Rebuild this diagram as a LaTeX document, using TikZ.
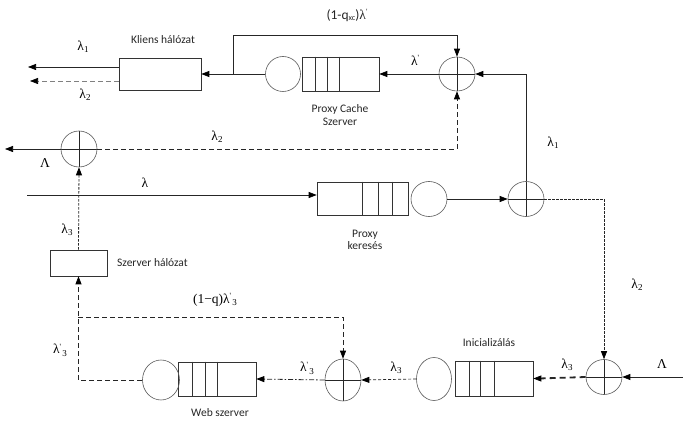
\documentclass[tikz,border=0pt]{standalone}
\usepackage{fontspec}
\setmainfont{Carlito}
\newfontfamily\gr{Liberation Serif}
\usetikzlibrary{arrows.meta,shapes.geometric,calc}

% rate labels: lambda with sub/superscripts
\newcommand\lam[1]{λ\raisebox{-0.35ex}{\fontsize{9}{9}\selectfont #1}}
\newcommand\lamp{λ\raisebox{0.8ex}{\fontsize{8}{8}\selectfont '}}
\newcommand\lampt{λ\rlap{\raisebox{0.8ex}{\fontsize{8}{8}\selectfont '}}\hspace{0.2em}\raisebox{-0.35ex}{\fontsize{9}{9}\selectfont 3}}

\tikzset{
  ln/.style={draw=black!85, line width=0.7pt},
  arr/.style={-{Triangle[length=8pt,width=6pt,color=black]}},
  srv/.style={draw=black!65, ellipse, inner sep=0pt, line width=0.6pt},
  pls/.style={srv, path picture={\draw[black!85, line width=0.7pt]
      (path picture bounding box.north) -- (path picture bounding box.south)
      (path picture bounding box.west) -- (path picture bounding box.east);}},
  boxn/.style={draw=black!80, rectangle, inner sep=0pt, line width=0.6pt},
  lbl/.style={font=\fontsize{11.5}{13.5}\selectfont, inner sep=0pt, text=black!85},
  glbl/.style={font=\gr\fontsize{13.5}{15}\selectfont, inner sep=0pt},
  dsh/.style={dash pattern=on 5pt off 3pt},
  fine/.style={line width=0.8pt, dash pattern=on 2.5pt off 1.5pt},
  thk/.style={line width=1.8pt, dash pattern=on 6pt off 4pt},
  dshdot/.style={line width=0.8pt, dash pattern=on 5pt off 2pt on 1.5pt off 2pt},
}

\begin{document}
\begin{tikzpicture}[x=1pt, y=-1pt]
\useasboundingbox (0,0) rectangle (683,422);

% ---------- top row: proxy cache server and client network ----------
\node[boxn, minimum width=82pt, minimum height=32pt] (kl) at (160,74) {};
\node[lbl] (klt) at (163,40) {Kliens hálózat};
\coordinate (o1) at (28,67);
\coordinate (o2) at (30,81);
\node[srv, minimum width=35pt, minimum height=35pt] (pcs) at (283,74) {};
\node[boxn, minimum width=77pt, minimum height=34pt] (pcq) at (340.5,74) {};
\foreach \d in {14,26,38}
  \draw[black!80, line width=0.6pt] ([xshift=\d pt]pcq.north west) -- ([xshift=\d pt]pcq.south west);
\node[lbl, align=center] (pct) at (340,115) {Proxy Cache\\[-1pt]Szerver};
\node[pls, minimum width=36pt, minimum height=34pt] (tp) at (457,74) {};
\coordinate (j1) at (233,74);
\node[glbl] (lt1) at (83,47) {\lam{1}};
\node[glbl] (lt2) at (85,95) {\lam{2}};
\node[glbl] (ltp) at (415,60) {\lamp};
\node[lbl, font=\fontsize{13.5}{15}\selectfont] (lq) at (347,15)
  {(1-q\raisebox{-0.2ex}{\fontsize{8}{8}\selectfont xc})\gr\lamp};

% ---------- middle row: proxy lookup ----------
\node[pls, minimum width=36pt, minimum height=36pt] (lp) at (79,149) {};
\coordinate (o3) at (5,149);
\coordinate (lin) at (27,195);
\node[boxn, minimum width=91pt, minimum height=33pt] (pkq) at (362.5,198.5) {};
\foreach \d in {46,62,76}
  \draw[black!80, line width=0.6pt] ([xshift=\d pt]pkq.north west) -- ([xshift=\d pt]pkq.south west);
\node[srv, minimum width=36pt, minimum height=35pt] (pks) at (429,199) {};
\node[lbl, align=center] (pkt) at (365,240) {Proxy\\[-1pt]keresés};
\node[pls, minimum width=36pt, minimum height=35pt] (bp) at (526,199) {};
\node[glbl] (lL1) at (45,163) {Λ};
\node[glbl] (lm2) at (217,137) {\lam{2}};
\node[glbl] (lm) at (145,183) {λ};
\node[glbl] (lm1) at (553,143) {\lam{1}};
\node[glbl] (lm3) at (67,230) {\lam{3}};
\node[glbl] (lr2) at (637,285) {\lam{2}};

\node[boxn, minimum width=57pt, minimum height=26pt] (szb) at (78.5,263) {};
\node[lbl, anchor=west] (szt) at (117,263) {Szerver hálózat};

% ---------- bottom row: initialisation and web server ----------
\node[pls, minimum width=36pt, minimum height=35pt] (brp) at (604,377) {};
\coordinate (iL) at (683,377);
\node[boxn, minimum width=78pt, minimum height=35pt] (iq) at (494,378.5) {};
\foreach \d in {15,26,40}
  \draw[black!80, line width=0.6pt] ([xshift=\d pt]iq.north west) -- ([xshift=\d pt]iq.south west);
\node[lbl] (it) at (489,343) {Inicializálás};
\node[srv, minimum width=35pt, minimum height=43pt] (is) at (434,379) {};
\node[pls, minimum width=36pt, minimum height=42pt] (mp) at (343,380) {};
\node[boxn, minimum width=78pt, minimum height=34pt] (wq) at (217,379) {};
\foreach \d in {15,28,40}
  \draw[black!80, line width=0.6pt] ([xshift=\d pt]wq.north west) -- ([xshift=\d pt]wq.south west);
\node[srv, minimum width=37pt, minimum height=40pt] (ws) at (161,380) {};
\node[lbl] (wt) at (220,413) {Web szerver};
\coordinate (fb) at (78,317);
\node[glbl] (lL2) at (662,364) {Λ};
\node[glbl] (lb3) at (567,365) {\lam{3}};
\node[glbl] (lc3) at (396,368) {\lam{3}};
\node[glbl] (ld3) at (307,368) {\lampt};
\node[glbl] (le3) at (60,350) {\lampt};
\node[glbl] (lf) at (215,300) {(1−q)\lampt};

% ---------- connectors ----------
\draw[ln, arr] (kl.west |- o1) -- (o1);
\draw[ln, arr, draw=black!50, dsh] (kl.west |- o2) -- (o2);
\draw[ln, arr] (pcs.west) -- (kl.east);
\draw[ln, arr] (j1) -- (233,35) -| (tp.north);
\draw[ln, arr] (tp.west) -- (pcq.east);
\draw[ln, arr] (bp.north) |- (tp.east);
\draw[ln, arr, dsh] (lp.east) -| (tp.south);
\draw[ln, arr] (lp.west) -- (o3);
\draw[ln, arr, fine] (szb.north) -- (lp.south);
\draw[ln, arr] (lin) -- (lin -| pkq.west);
\draw[ln, arr] (pks.east) -- (bp.west);
\draw[ln, arr, fine] (bp.east) -| (brp.north);
\draw[ln, arr] (iL) -- (brp.east);
\draw[ln, thk] (brp.west) -- ([xshift=6pt]iq.east);
\draw[ln, arr] ([xshift=8pt]iq.east) -- (iq.east);
\draw[ln, arr, dash pattern=on 3pt off 2pt] (is.west) -- (mp.east);
\draw[ln, arr, dshdot] (mp.west) -- (wq.east);
\draw[ln, arr, dsh] (ws.west) -| (szb.south);
\draw[ln, arr, dsh] (fb) -| (mp.north);
\end{tikzpicture}
\end{document}
